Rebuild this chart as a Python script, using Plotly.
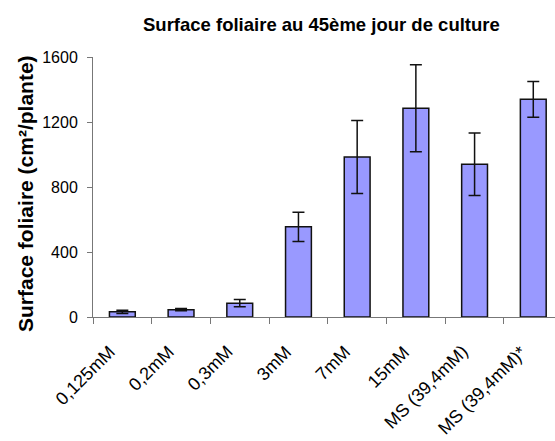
import plotly.graph_objects as go

# Leaf area on day 45 of culture, by nutrient concentration
categories = ["0,125mM", "0,2mM", "0,3mM", "3mM", "7mM", "15mM",
              "MS (39,4mM)", "MS (39,4mM)*"]
leaf_area = [32, 45, 85, 555, 985, 1285, 940, 1340]
std_error = [10, 7, 22, 90, 225, 268, 192, 110]
y_ticks = [0, 400, 800, 1200, 1600]

FONT = "Liberation Sans, Arial, sans-serif"

fig = go.Figure(
    go.Bar(
        x=categories,
        y=leaf_area,
        width=0.44,
        marker=dict(color="#9999FF", line=dict(color="#111111", width=1.5)),
        error_y=dict(type="data", array=std_error, visible=True,
                     color="#111111", thickness=1.5, width=6),
    )
)

fig.update_layout(
    width=555, height=441,
    margin=dict(l=93, r=0, t=57, b=124),
    paper_bgcolor="white", plot_bgcolor="white",
    showlegend=False,
    font=dict(family=FONT, size=16, color="black"),
)

fig.update_xaxes(
    type="category",
    range=[-0.5, 7.37],
    tickson="boundaries",
    ticks="outside", ticklen=6, tickcolor="#777777", tickwidth=1,
    showline=True, linecolor="#777777", linewidth=1,
    showticklabels=False,
    showgrid=False,
)

fig.update_yaxes(
    range=[0, 1600],
    tickvals=y_ticks,
    ticks="outside", ticklen=5, tickcolor="#777777", tickwidth=1,
    showline=True, linecolor="#777777", linewidth=1,
    showgrid=False, zeroline=False,
    ticklabelstandoff=6,
    tickfont=dict(size=16),
)

# Slanted category labels, each ending just under its bar
for cat in categories:
    fig.add_annotation(
        text=cat, xref="x", yref="paper", x=cat, y=0,
        xshift=0, yshift=-22, textangle=-45, showarrow=False,
        xanchor="right", yanchor="top", font=dict(size=18),
    )

fig.add_annotation(
    text="<b>Surface foliaire au 45ème jour de culture</b>",
    xref="paper", yref="paper", x=(321.5 - 93) / 462, y=1 + (57 - 24) / 260,
    showarrow=False, font=dict(size=18.5), xanchor="center", yanchor="middle",
)

fig.add_annotation(
    text="<b>Surface foliaire (cm²/plante)</b>",
    xref="paper", yref="paper", x=(25 - 93) / 462, y=(317 - 194) / 260,
    textangle=-90, showarrow=False, font=dict(size=21),
    xanchor="center", yanchor="middle",
)

fig.write_html("out.html")
